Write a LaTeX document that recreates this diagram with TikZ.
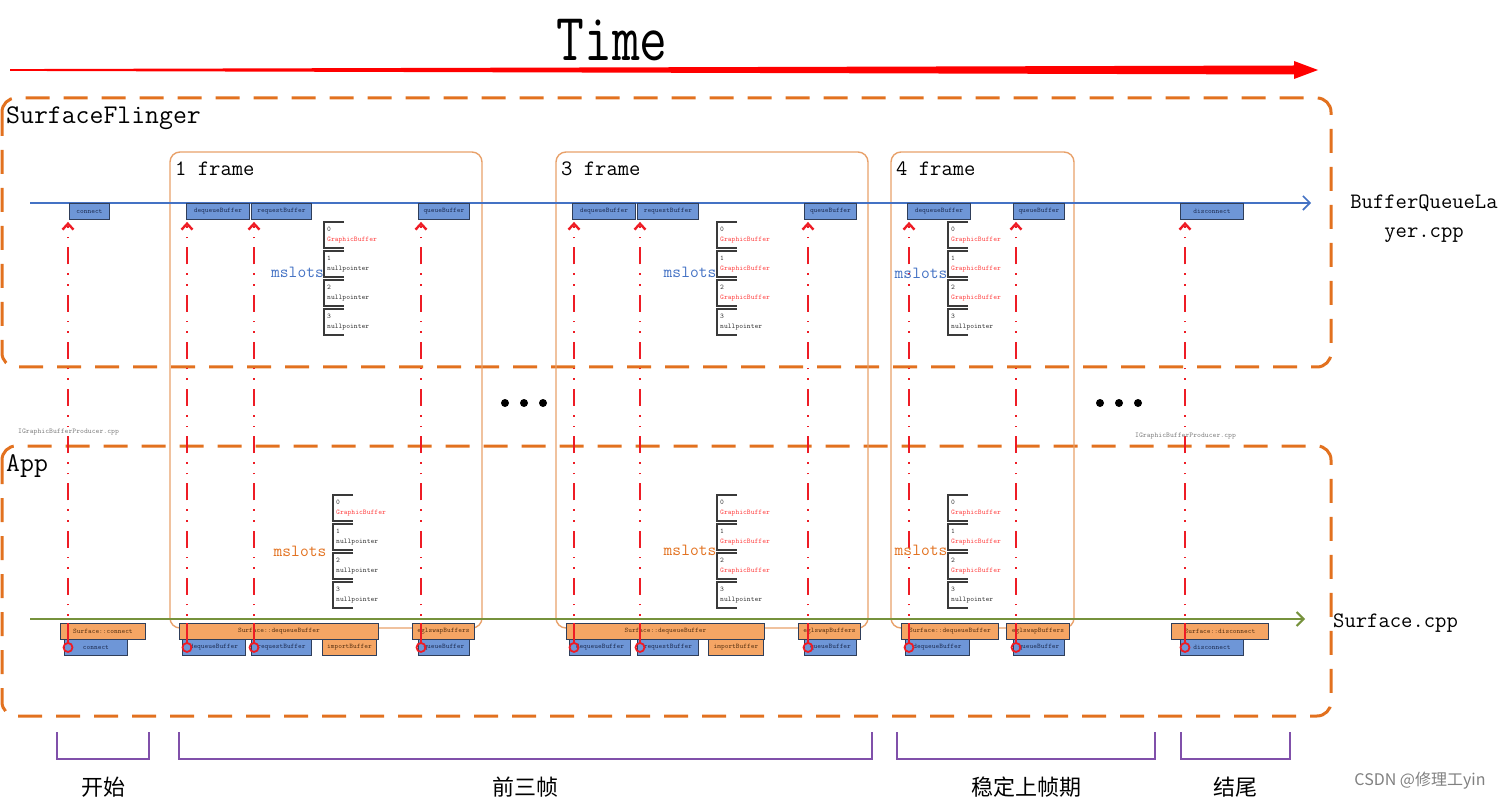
\documentclass[tikz,border=0pt]{standalone}
\usepackage{fontspec}
\usepackage{graphicx}
\usepackage{tikz}
\usetikzlibrary{positioning,calc,arrows.meta}
\newfontfamily\cjk{Noto Sans CJK SC}

\definecolor{regionorange}{HTML}{E2711F}
\definecolor{frameorange}{HTML}{E8A16A}
\definecolor{lineblue}{HTML}{4472C4}
\definecolor{callblue}{HTML}{6E96D7}
\definecolor{callorange}{HTML}{F5A564}
\definecolor{calledge}{HTML}{2F3E5A}
\definecolor{calltextblue}{HTML}{1F2F55}
\definecolor{calltextbrown}{HTML}{5B3414}
\definecolor{linegreen}{HTML}{76923C}
\definecolor{bracepurple}{HTML}{8050AA}
\definecolor{bufred}{HTML}{FF4646}
\definecolor{reqred}{HTML}{EE1C25}
\definecolor{slotgray}{HTML}{3A3A3A}

\tikzset{
  region/.style={draw=regionorange, line width=3pt, dash pattern=on 24pt off 14pt, rounded corners=14pt},
  framebox/.style={draw=frameorange, line width=1.4pt, rounded corners=10pt},
  bigtext/.style={font=\ttfamily\fontsize{27}{30}\selectfont, inner sep=0, anchor=west},
  frametext/.style={font=\ttfamily\fontsize{22}{29}\selectfont, inner sep=0, anchor=west},
  call/.style={draw=calledge, line width=0.9pt, minimum height=16pt, inner sep=0, anchor=north west, font=\ttfamily\fontsize{7}{8}\selectfont},
  sfcall/.style={call, fill=callblue, text=calltextblue},
  appcall/.style={call, fill=callorange, text=calltextbrown},
  slotedge/.style={draw=slotgray, line width=1.2pt},
  slottext/.style={font=\ttfamily\fontsize{7.2}{9.5}\selectfont, text=slotgray, inner sep=0, anchor=north west, align=left},
  slotlabel/.style={font=\ttfamily\fontsize{17}{17}\selectfont, inner sep=0},
  reqsolid/.style={draw=reqred, line width=2.4pt},
  reqdash/.style={reqsolid, dash pattern=on 17pt off 9pt on 1.6pt off 9pt on 1.6pt off 9pt, dash phase=19pt, -{Straight Barb[length=6pt,width=11pt]}, shorten >=2pt},
  phasebrace/.style={draw=bracepurple, line width=2.2pt},
  phasetext/.style={font=\cjk\fontsize{22}{22}\selectfont},
  srcnote/.style={font=\ttfamily\fontsize{7.3}{8}\selectfont, text=gray, inner sep=0, anchor=west},
}

\begin{document}
\begin{tikzpicture}[x=1pt, y=-1pt]
\useasboundingbox (0,0) rectangle (1500,802);

% time axis
\node[font=\ttfamily\fontsize{54}{60}\selectfont, inner sep=0] (time) at (612,40) {\scalebox{1}[1.25]{Time}};
\coordinate (t-start) at (10,70);
\coordinate (t-end) at (1318,70);
\fill[red] (t-start) ++(0,-0.9) -- (1294,65.5) -- (1294,61) -- (t-end) -- (1294,79) -- (1294,74.5) -- (10,70.9) -- cycle;

% processes
\draw[region] (2,98) rectangle (1331,367);
\draw[region] (2,446) rectangle (1331,716);
\node[bigtext] (sf) at (6,118) {SurfaceFlinger};
\node[bigtext] (app) at (6,466) {App};

\foreach \fn/\x/\w in {1/170/312, 3/556/312, 4/891/183}{
    \draw[framebox] (\x,152) rectangle ++(\w,476);
    \node[frametext] (frame-\fn) at (\x+5,169) {\fn\ frame};
};

% timelines
\coordinate (bq-start) at (30,203);
\coordinate (bq-end) at (1311,203);
\draw[lineblue, line width=1.6pt, -{Straight Barb[length=7pt,width=14pt]}] (bq-start) -- (bq-end);
\coordinate (sc-start) at (30,619);
\coordinate (sc-end) at (1305,619);
\draw[linegreen, line width=2pt, -{Straight Barb[length=7pt,width=14pt]}] (sc-start) -- (sc-end);
\node[frametext, anchor=center, align=center] (bql) at (1424,218.5) {BufferQueueLa\\yer.cpp};
\node[frametext] (surf) at (1333,623) {Surface.cpp};

\foreach \n/\x/\w/\t in {conn/69/40/connect, dq1/186/63/dequeueBuffer, rq1/251/60/requestBuffer, qb1/418/51/queueBuffer, dq3/572/63/dequeueBuffer, rq3/637/61/requestBuffer, qb3/804/52/queueBuffer, dq4/907/63/dequeueBuffer, qb4/1013/51/queueBuffer, disc/1180/63/disconnect}
    \node[sfcall, minimum width=\w] (sf-\n) at (\x,203) {\t};

\foreach \n/\x/\w/\t in {sconn/60/85/Surface::connect, sdq1/179/199/Surface::dequeueBuffer, egl1/412/62/eglswapBuffers, sdq3/566/198/Surface::dequeueBuffer, egl3/798/62/eglswapBuffers, sdq4/901/97/Surface::dequeueBuffer, egl4/1006/63/eglswapBuffers, sdisc/1171/97/Surface::disconnect}
    \node[appcall, minimum width=\w] (ap-\n) at (\x,623) {\t};

\foreach \n/\x/\w/\t in {conn/64/63/connect, dq1/182/63/dequeueBuffer, rq1/251/60/requestBuffer, qb1/418/51/queueBuffer, dq3/569/61/dequeueBuffer, rq3/637/61/requestBuffer, qb3/804/52/queueBuffer, dq4/905/64/dequeueBuffer, qb4/1013/51/queueBuffer, disc/1180/63/disconnect}
    \node[sfcall, minimum width=\w] (ap-\n) at (\x,639) {\t};
\node[appcall, minimum width=54] (ap-imp1) at (322,639) {importBuffer};
\node[appcall, minimum width=55] (ap-imp3) at (708,639) {importBuffer};

% binder calls
\foreach \n/\d in {conn/-1, dq1/1, rq1/3, qb1/3, dq3/2, rq3/3, qb3/4, dq4/2, qb4/3, disc/5}{
    \coordinate (tip-\n) at ([xshift=\d pt]sf-\n.south west);
    \draw[reqsolid, line width=1.8pt] (tip-\n |- ap-\n.center) circle (4.5);
    \draw[reqsolid] (tip-\n |- ap-\n.center) ++(0,-4.5) -- ++(0,-20) coordinate (foot-\n);
    \draw[reqdash] (foot-\n) -- (tip-\n);
};

% mslots
\foreach \tx/\ty/\nb in {324/222/1, 717/222/3, 948/222/3, 333/495/1, 717/495/3, 948/495/3}{
    \foreach \k in {0,...,3}{
        \pgfmathsetmacro{\cy}{\ty+29*\k}
        \draw[slotedge] (\tx+20,\cy) -- (\tx,\cy) -- (\tx,\cy+26) -- (\tx+20,\cy+26);
        \ifnum\k<\nb
            \node[slottext] (slot-\tx-\ty-\k) at (\tx+3,\cy+5) {\k\\\textcolor{bufred}{GraphicBuffer}};
        \else
            \node[slottext] (slot-\tx-\ty-\k) at (\tx+3,\cy+5) {\k\\nullpointer};
        \fi
    };
};
\foreach \n/\x/\y in {1/297.5/272, 3/690/272, 4/921/273}
    \node[slotlabel, text=lineblue] (ms-sf\n) at (\x,\y) {mslots};
\foreach \n/\x/\y in {1/300/551, 3/690/550, 4/921/550}
    \node[slotlabel, text=regionorange] (ms-app\n) at (\x,\y) {mslots};

\foreach \x in {505,524,543,1100,1119,1138}
    \fill (\x,403) circle (4);
\node[srcnote] (ibp-l) at (18,432) {IGraphicBufferProducer.cpp};
\node[srcnote] (ibp-r) at (1135,436) {IGraphicBufferProducer.cpp};

% phases
\foreach \n/\a/\b/\t in {start/57/149/开始, first/179/872/前三帧, steady/897/1155/稳定上帧期, end/1181/1290/结尾}{
    \draw[phasebrace] (\a,732) |- (\b,759) -- (\b,732);
    \node[phasetext] (phase-\n) at ({(\a+\b)/2},787) {\t};
};
\node[font=\cjk\fontsize{16}{16}\selectfont, text=gray] (mark) at (1420,781) {CSDN @修理工yin};
\end{tikzpicture}
\end{document}
